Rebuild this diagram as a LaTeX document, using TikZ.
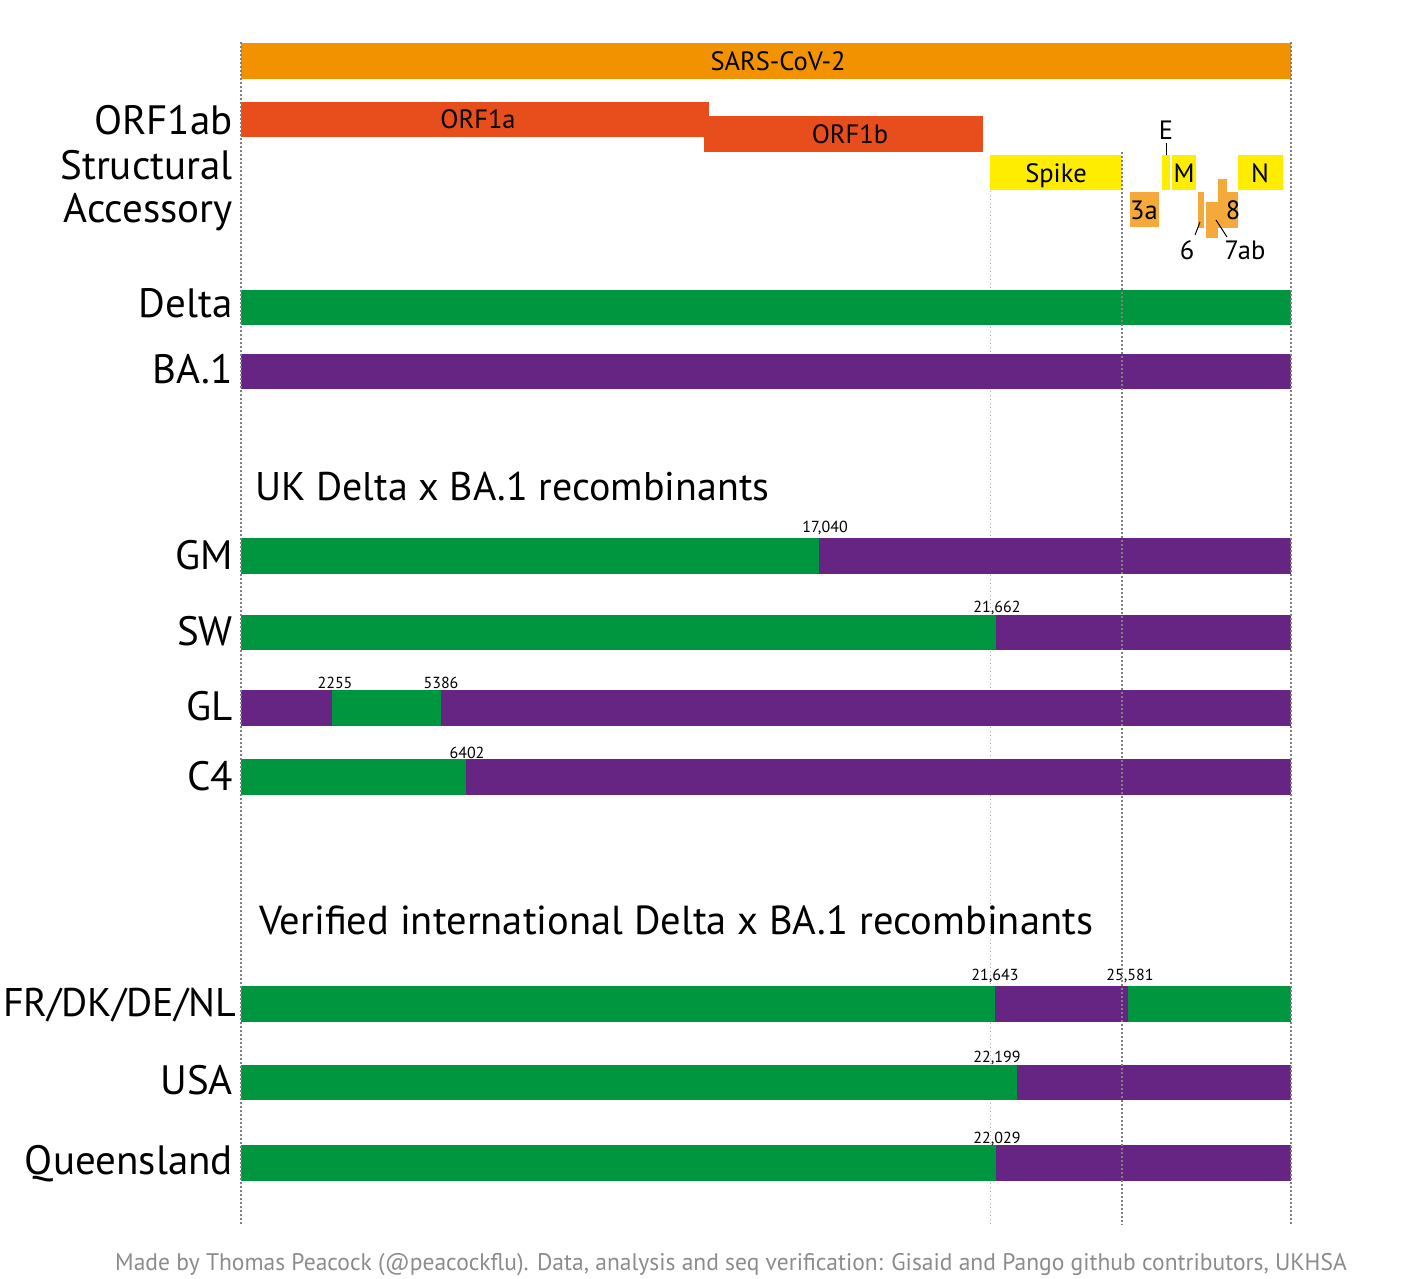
\documentclass[tikz,border=0pt]{standalone}
\usepackage{fontspec}
\setmainfont{PT Sans}
\newfontfamily\footfont[FakeStretch=0.98]{PT Sans}
\definecolor{sarsor}{HTML}{F39200}
\definecolor{orfred}{HTML}{E84E1B}
\definecolor{structy}{HTML}{FFED00}
\definecolor{accor}{HTML}{F6A93B}
\definecolor{dgreen}{HTML}{009640}
\definecolor{bpurple}{HTML}{662483}
\definecolor{footgray}{RGB}{140,140,140}
\begin{document}
\begin{tikzpicture}[x=1pt,y=-1pt,
  rowlab/.style={anchor=base east,inner sep=0pt,font=\fontsize{41}{43}\selectfont},
  title/.style={anchor=base west,inner sep=0pt,font=\fontsize{40}{42}\selectfont},
  barlab/.style={anchor=base,inner sep=0pt,font=\fontsize{26.5}{28}\selectfont},
  numlab/.style={anchor=base,inner sep=0pt,font=\fontsize{16}{17}\selectfont},
  guide/.style={gray!60,line width=1pt,dash pattern=on 1pt off 3pt},
  guidedark/.style={gray,line width=1.2pt,dash pattern=on 1.5pt off 2.5pt}]
\useasboundingbox (0,0) rectangle (1408,1278);
% light guide behind bars
\draw[guide] (990,155) -- (990,1225);
% genome
\fill[sarsor] (241,43) rectangle (1291,79);
\node[barlab] (sars) at (778,70) {SARS-CoV-2};
% ORF1ab
\fill[orfred] (241,102) rectangle (709,137);
\fill[orfred] (704,116) rectangle (983,152);
\node[barlab] (orf1a) at (478,128) {ORF1a};
\node[barlab] (orf1b) at (850,143) {ORF1b};
% structural
\fill[structy] (990,155) rectangle (1122,190);
\fill[structy] (1162,155) rectangle (1170,190);
\fill[structy] (1172,155) rectangle (1196,190);
\fill[structy] (1238,155) rectangle (1283,190);
\node[barlab] (spike) at (1056,182) {Spike};
\node[barlab] (mlab) at (1184,182) {M};
\node[barlab] (nlab) at (1260,182) {N};
\node[barlab] (elab) at (1166,139) {E};
\coordinate (etick) at (1166,155);
\draw[black,line width=1pt] (elab.south) ++(0,4) -- (etick);
% accessory
\fill[accor] (1130,192) rectangle (1159,227);
\fill[accor] (1198,192) rectangle (1204,228);
\fill[accor] (1206,202) rectangle (1218,238);
\fill[accor] (1218,179) rectangle (1227,228);
\fill[accor] (1218,192) rectangle (1238,228);
\node[barlab] (a3) at (1144,219) {3a};
\node[barlab] (a8) at (1233,219) {8};
\node[barlab] (a6) at (1187,259) {6};
\node[barlab] (a7) at (1245,259) {7ab};
\coordinate (p6) at (1200,222);
\coordinate (p7) at (1216,220);
\draw[black,line width=1pt] (1195,235) -- (p6);
\draw[black,line width=1pt] (1227,237) -- (p7);
% row labels top
\node[rowlab] (lorf) at (233,134) {ORF1ab};
\node[rowlab] (lstr) at (233,179) {Structural};
\node[rowlab] (lacc) at (233,222) {Accessory};
% Delta, BA.1
\fill[dgreen] (241,290) rectangle (1291,325);
\fill[bpurple] (241,354) rectangle (1291,389);
\node[rowlab] (ldelta) at (233,317) {Delta};
\node[rowlab] (lba) at (233,383) {BA.1};
% UK
\node[title] (tuk) at (255,500) {UK Delta x BA.1 recombinants};
\fill[dgreen] (241,538) rectangle (819,574);
\fill[bpurple] (819,538) rectangle (1291,574);
\node[numlab] (n1) at (825,532) {17,040};
\node[rowlab] (lgm) at (233,569) {GM};
\fill[dgreen] (241,615) rectangle (996,650);
\fill[bpurple] (996,615) rectangle (1291,650);
\node[numlab] (n2) at (997,612) {21,662};
\node[rowlab] (lsw) at (233,645) {SW};
\fill[bpurple] (241,690) rectangle (332,726);
\fill[dgreen] (332,690) rectangle (441,726);
\fill[bpurple] (441,690) rectangle (1291,726);
\node[numlab] (n3) at (335,688) {2255};
\node[numlab] (n4) at (441,688) {5386};
\node[rowlab] (lgl) at (233,720) {GL};
\fill[dgreen] (241,759) rectangle (466,795);
\fill[bpurple] (466,759) rectangle (1291,795);
\node[numlab] (n5) at (467,758) {6402};
\node[rowlab] (lc4) at (233,790) {C4};
% international
\node[title,font=\fontsize{40.5}{42}\selectfont] (tint) at (259,934) {Verified international Delta x BA.1 recombinants};
\fill[dgreen] (241,986) rectangle (995,1022);
\fill[bpurple] (995,986) rectangle (1128,1022);
\fill[dgreen] (1128,986) rectangle (1291,1022);
\node[numlab] (n6) at (995,980) {21,643};
\node[numlab] (n7) at (1130,980) {25,581};
\node[rowlab,font=\fontsize{40}{42}\selectfont] (lfr) at (236,1016) {FR/DK/DE/NL};
\fill[dgreen] (241,1065) rectangle (1017,1100);
\fill[bpurple] (1017,1065) rectangle (1291,1100);
\node[numlab] (n8) at (997,1062) {22,199};
\node[rowlab] (lusa) at (233,1094) {USA};
\fill[dgreen] (241,1145) rectangle (996,1181);
\fill[bpurple] (996,1145) rectangle (1291,1181);
\node[numlab] (n9) at (997,1143) {22,029};
\node[rowlab] (lq) at (233,1174) {Queensland};
% guides over bars
\draw[guidedark] (241,42) -- (241,1225);
\draw[guidedark] (1291,42) -- (1291,1225);
\draw[guidedark] (1122,152) -- (1122,1225);
% footer
\node[anchor=base,inner sep=0pt,text=footgray,font=\footfont\fontsize{24}{26}\selectfont] (foot) at (731,1270) {Made by Thomas Peacock (@peacockflu). Data, analysis and seq verification: Gisaid and Pango github contributors, UKHSA};
\end{tikzpicture}
\end{document}
